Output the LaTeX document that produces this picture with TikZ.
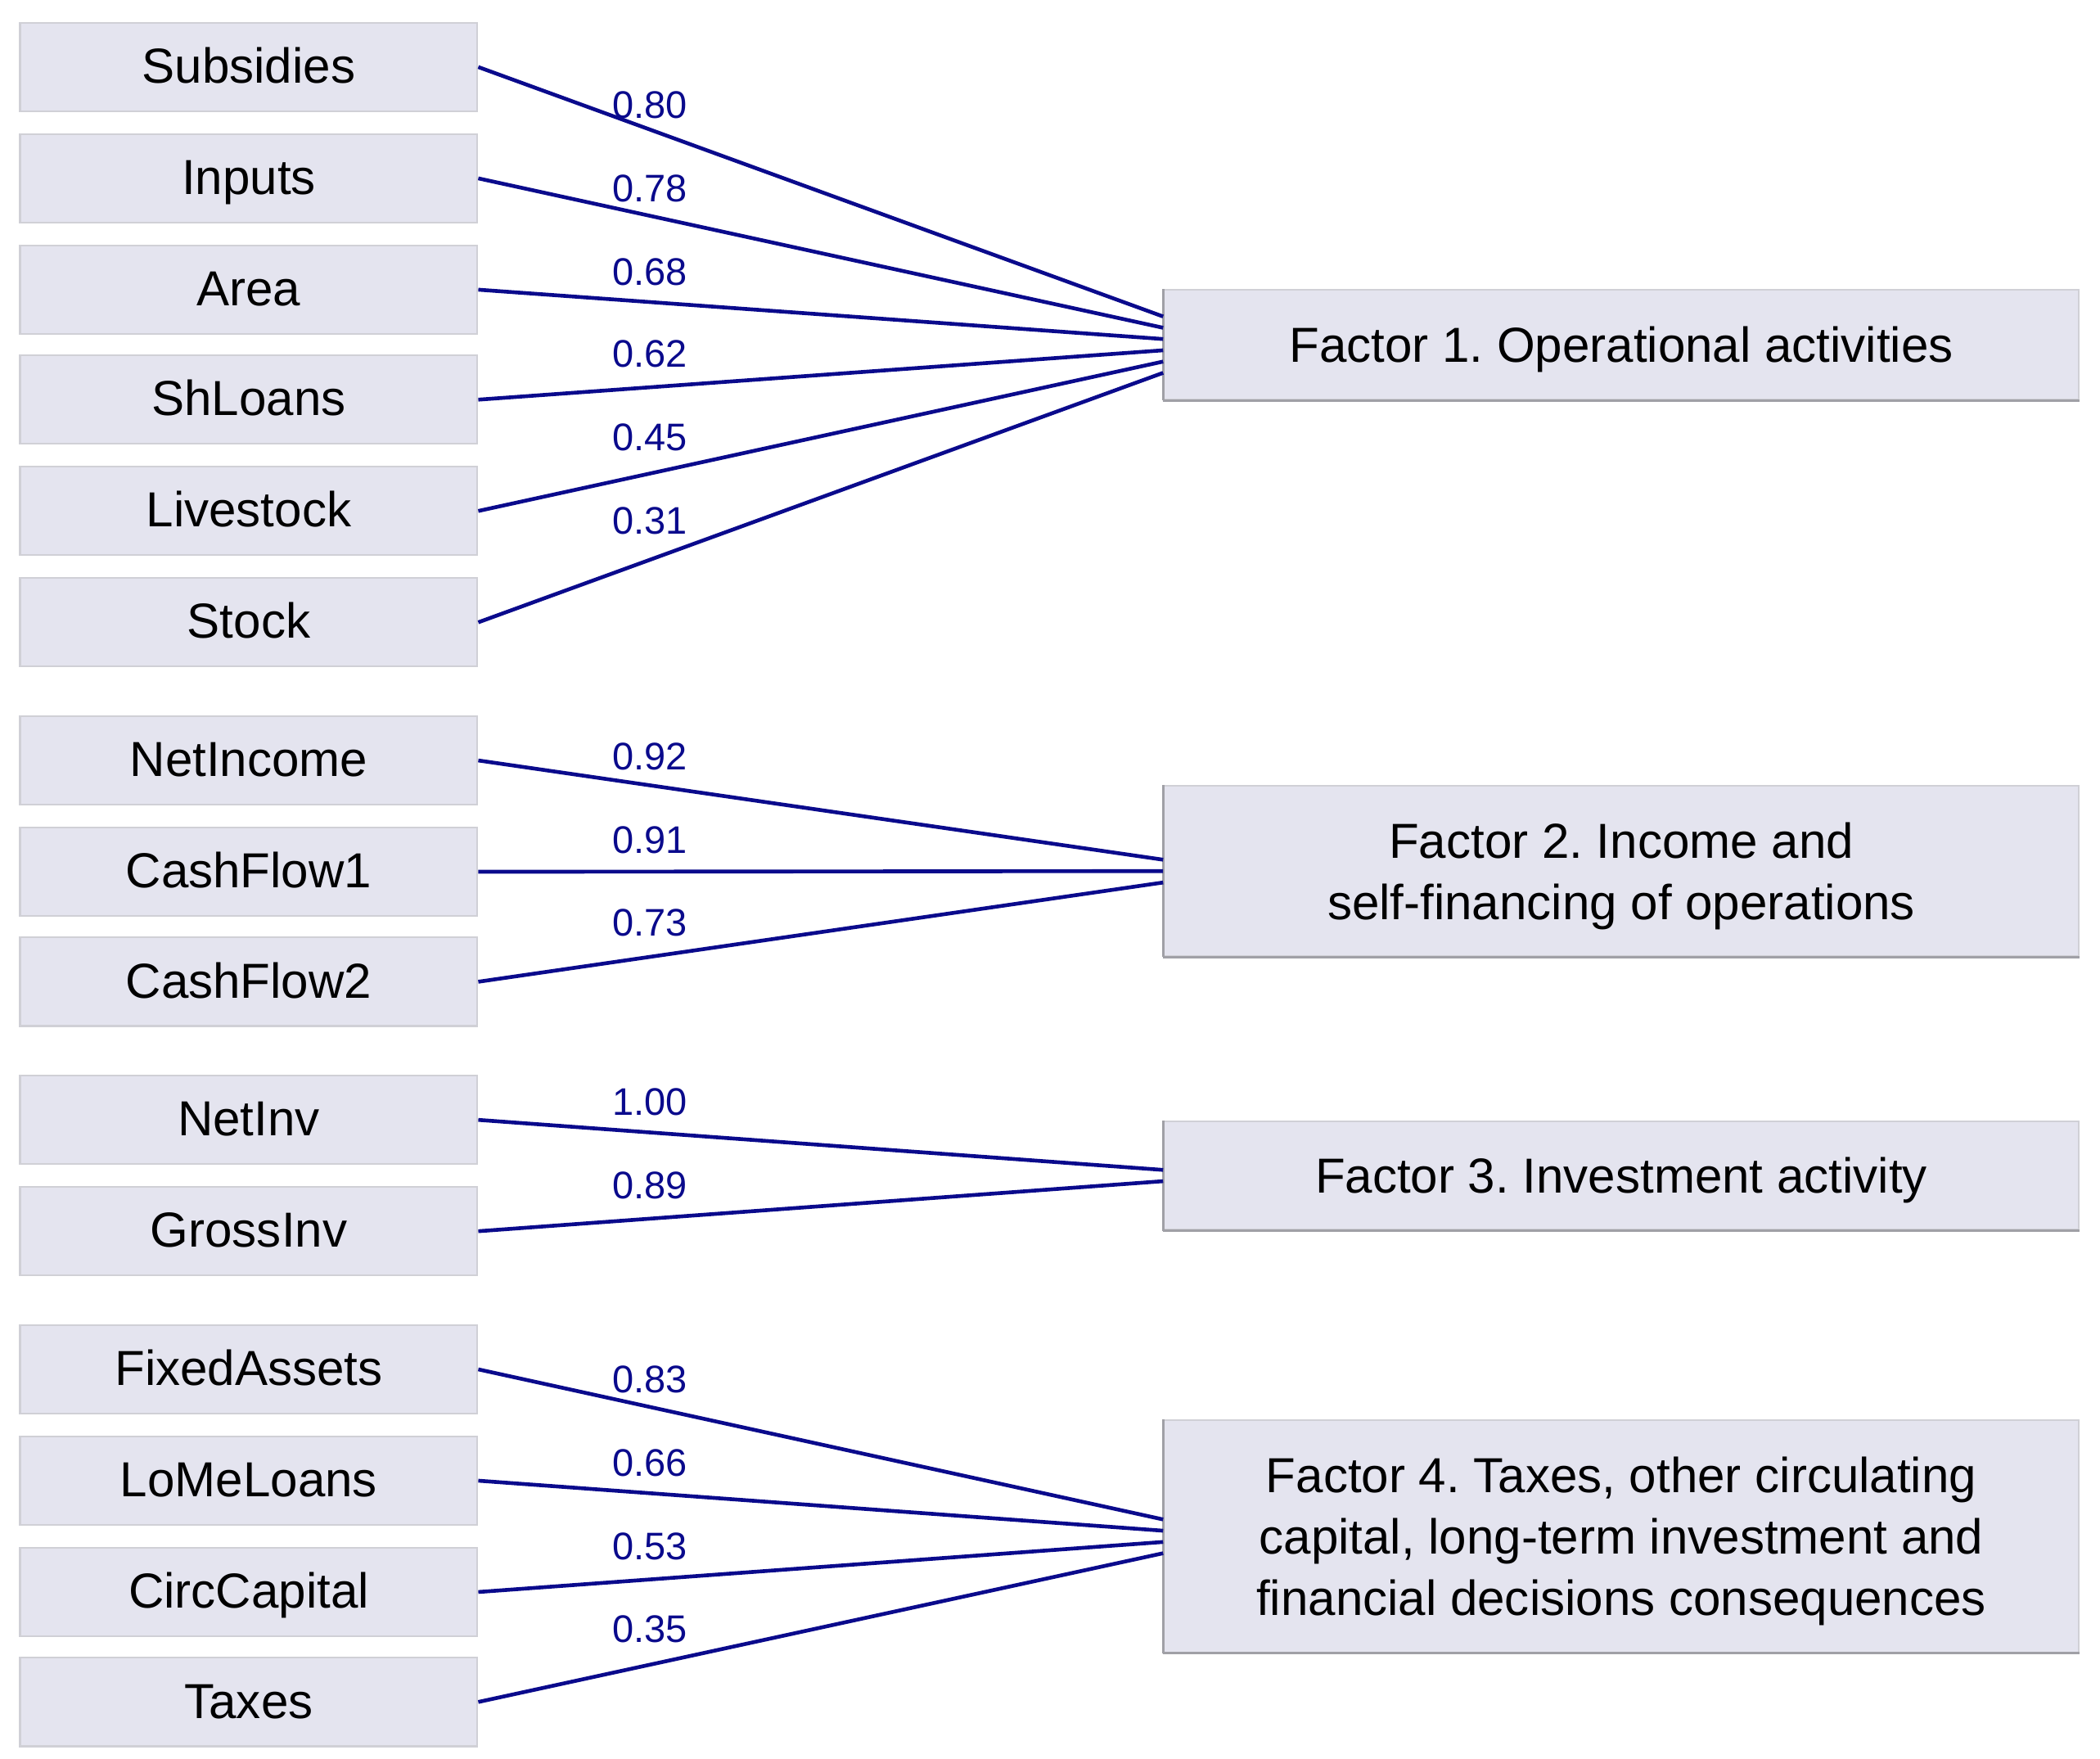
\documentclass[tikz,border=0pt]{standalone}
\usepackage{fontspec}
\setmainfont{Liberation Sans}
\frenchspacing
\usepackage{tikz}
\definecolor{boxfill}{RGB}{228,228,239}
\definecolor{boxline}{RGB}{208,208,214}
\definecolor{boxdark}{RGB}{160,160,166}
\definecolor{lnblue}{RGB}{10,10,140}
\tikzstyle{var} = [rectangle, fill=boxfill, draw=boxline, minimum width=102.3pt, minimum height=19.8pt, inner sep=0pt, text height=0.72em, text depth=0pt, font=\fontsize{11}{13.7}\selectfont]
\tikzstyle{fac} = [rectangle, fill=boxfill, draw=boxline, minimum width=204.6pt, inner sep=0pt, align=center, text depth=0pt, font=\fontsize{11}{13.7}\selectfont,
  append after command={(\tikzlastnode.north west) edge[draw=boxdark, line width=0.5pt] (\tikzlastnode.south west)
    (\tikzlastnode.south west) edge[draw=boxdark, line width=0.5pt] (\tikzlastnode.south east)}]
\tikzstyle{lnk} = [draw=lnblue, line width=0.85pt]
\tikzstyle{ld} = [pos=0.28, above=3.6pt, xshift=-4.5pt, inner sep=0pt, text=lnblue, font=\fontsize{8.6}{10}\selectfont]

\begin{document}
\begin{tikzpicture}[x=0.3pt, y=-0.3pt]
\useasboundingbox (0,0) rectangle (1566,1311);
% variables
\node(Sub)[var] at (185.5,50) {Subsidies};
\node(Inp)[var] at (185.5,133) {Inputs};
\node(Are)[var] at (185.5,216) {Area};
\node(ShL)[var] at (185.5,298) {ShLoans};
\node(Liv)[var] at (185.5,381) {Livestock};
\node(Sto)[var] at (185.5,464) {Stock};
\node(NeI)[var] at (185.5,567) {NetIncome};
\node(CF1)[var] at (185.5,650) {CashFlow1};
\node(CF2)[var] at (185.5,732) {CashFlow2};
\node(NIv)[var] at (185.5,835) {NetInv};
\node(GIv)[var] at (185.5,918) {GrossInv};
\node(FiA)[var] at (185.5,1021) {FixedAssets};
\node(LML)[var] at (185.5,1104) {LoMeLoans};
\node(CiC)[var] at (185.5,1187) {CircCapital};
\node(Tax)[var] at (185.5,1269) {Taxes};
% factors
\node(F1)[fac, minimum height=24.6pt] at (1209,257) {Factor 1. Operational activities};
\node(F2)[fac, minimum height=38.1pt] at (1209,649.5) {Factor 2. Income and\\self-financing of operations};
\node(F3)[fac, minimum height=24.3pt] at (1209,876.5) {Factor 3. Investment activity};
\node(F4)[fac, minimum height=51.9pt] at (1209,1145.5) {Factor 4. Taxes, other circulating\\capital, long-term investment and\\financial decisions consequences};
% loadings
\draw[lnk](Sub.east)--([yshift=6.3pt]F1.west) node[ld]{0.80};
\draw[lnk](Inp.east)--([yshift=3.78pt]F1.west) node[ld]{0.78};
\draw[lnk](Are.east)--([yshift=1.26pt]F1.west) node[ld]{0.68};
\draw[lnk](ShL.east)--([yshift=-1.26pt]F1.west) node[ld]{0.62};
\draw[lnk](Liv.east)--([yshift=-3.78pt]F1.west) node[ld]{0.45};
\draw[lnk](Sto.east)--([yshift=-6.3pt]F1.west) node[ld]{0.31};
\draw[lnk](NeI.east)--([yshift=2.55pt]F2.west) node[ld]{0.92};
\draw[lnk](CF1.east)--(F2.west) node[ld]{0.91};
\draw[lnk](CF2.east)--([yshift=-2.55pt]F2.west) node[ld]{0.73};
\draw[lnk](NIv.east)--([yshift=1.26pt]F3.west) node[ld]{1.00};
\draw[lnk](GIv.east)--([yshift=-1.26pt]F3.west) node[ld]{0.89};
\draw[lnk](FiA.east)--([yshift=3.78pt]F4.west) node[ld]{0.83};
\draw[lnk](LML.east)--([yshift=1.26pt]F4.west) node[ld]{0.66};
\draw[lnk](CiC.east)--([yshift=-1.26pt]F4.west) node[ld]{0.53};
\draw[lnk](Tax.east)--([yshift=-3.78pt]F4.west) node[ld]{0.35};
\end{tikzpicture}
\end{document}
